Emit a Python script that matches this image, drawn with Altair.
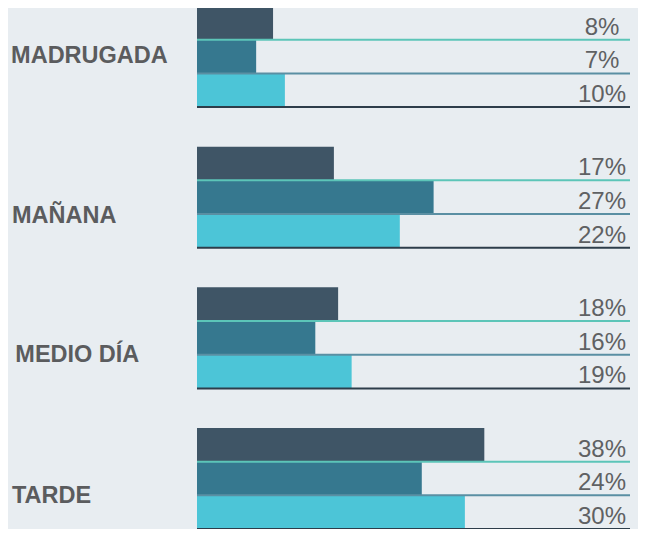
import altair as alt
import pandas as pd

# ---- data ----
categories = ["MADRUGADA", "MAÑANA", "MEDIO DÍA", "TARDE"]
series = ["Serie 1", "Serie 2", "Serie 3"]
# percentage labels printed on the chart
serie1_pct = [8, 17, 18, 38]
serie2_pct = [7, 27, 16, 24]
serie3_pct = [10, 22, 19, 30]
# bar lengths as drawn in the picture (same percent units)
serie1_len = [9.0, 16.2, 16.7, 34.0]
serie2_len = [7.0, 28.0, 14.0, 26.6]
serie3_len = [10.4, 24.0, 18.3, 31.7]

# ---- styling / layout ----
bar_colors = ["#3f5566", "#36788f", "#4cc5d7"]
line_colors = ["#5cc5b8", "#5a8fa3", "#2d3d4a"]
BG = "#e8edf1"
GROUP_STEP = 4.175          # rows per group incl. gap
LINE_END = 51.24            # extent of the baseline rules (x units)
ROW_PX = 33.69
label_row_offset = [1.68, 2.27, 2.23, 2.23]
label_x = [-22.0, -21.9, -21.5, -21.9]

pcts = [serie1_pct, serie2_pct, serie3_pct]
lens = [serie1_len, serie2_len, serie3_len]

rows = []
for g, cat in enumerate(categories):
    for b, s in enumerate(series):
        top = g * GROUP_STEP + b
        rows.append({
            "category": cat,
            "series": s,
            "start": 0.0,
            "len": lens[b][g],
            "line_end": LINE_END,
            "top": top,
            "bottom": top + 1,
            "label": f"{pcts[b][g]}%",
        })
df = pd.DataFrame(rows)

cat_df = pd.DataFrame({
    "category": categories,
    "lx": label_x,
    "ly": [g * GROUP_STEP + label_row_offset[g] for g in range(len(categories))],
})

xs = alt.Scale(domain=[0, LINE_END], range=[189, 622], zero=False, nice=False)
ys = alt.Scale(domain=[0, 15], range=[-2, -2 + 15 * ROW_PX], zero=False, nice=False)

bars = alt.Chart(df).mark_rect().encode(
    x=alt.X("start:Q", scale=xs, axis=None),
    x2="len:Q",
    y=alt.Y("top:Q", scale=ys, axis=None),
    y2="bottom:Q",
    color=alt.Color("series:N", scale=alt.Scale(domain=series, range=bar_colors), legend=None),
)

rules = alt.Chart(df).mark_rule(strokeWidth=2).encode(
    x=alt.X("start:Q", scale=xs, axis=None),
    x2="line_end:Q",
    y=alt.Y("bottom:Q", scale=ys, axis=None),
    stroke=alt.Stroke("series:N", scale=alt.Scale(domain=series, range=line_colors), legend=None),
)

pct_text = alt.Chart(df).mark_text(
    align="center", baseline="alphabetic", dy=-5,
    font="Liberation Sans", fontSize=24, color="#5f6163",
).encode(
    x=alt.value(594),
    y=alt.Y("bottom:Q", scale=ys, axis=None),
    text="label:N",
)

cat_text = alt.Chart(cat_df).mark_text(
    align="left", baseline="alphabetic",
    font="Liberation Sans", fontSize=23.5, fontWeight="bold", color="#5b5c5e",
).encode(
    x=alt.X("lx:Q", scale=xs, axis=None),
    y=alt.Y("ly:Q", scale=ys, axis=None),
    text="category:N",
)

chart = alt.layer(bars, rules, pct_text, cat_text).properties(
    width=630, height=521, background=BG, padding=0, autosize="none",
).configure_view(stroke=None)

chart.save("out.html", embed_options={"renderer": "svg", "actions": False})
